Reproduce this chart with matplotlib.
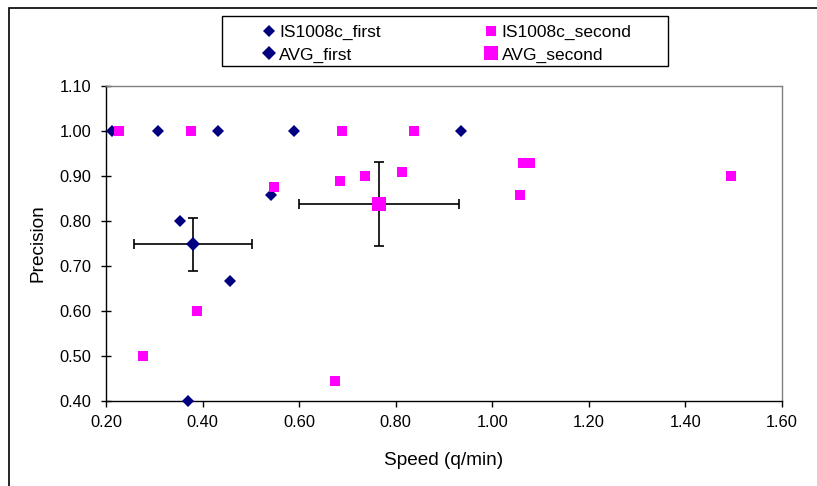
import matplotlib
matplotlib.use("Agg")
import matplotlib.pyplot as plt
from matplotlib.patches import Rectangle
from matplotlib.lines import Line2D

plt.rcParams['font.family'] = ['Liberation Sans', 'DejaVu Sans']

# IS1008c_first (speed, precision)
first_x = [0.213, 0.307, 0.431, 0.589, 0.936, 0.353, 0.542, 0.457, 0.369]
first_y = [1.00, 1.00, 1.00, 1.00, 1.00, 0.80, 0.857, 0.667, 0.40]

# IS1008c_second
second_x = [0.227, 0.375, 0.688, 0.838, 0.548, 0.684, 0.736, 0.814,
            0.388, 0.277, 0.674, 1.064, 1.079, 1.057, 1.494]
second_y = [1.00, 1.00, 1.00, 1.00, 0.875, 0.889, 0.90, 0.91,
            0.60, 0.50, 0.444, 0.93, 0.93, 0.857, 0.90]

# averages with error bars
avg_first = (0.380, 0.748)
avg_first_err = (0.123, 0.059)
avg_second = (0.766, 0.838)
avg_second_err = (0.166, 0.094)

xticks = [0.20, 0.40, 0.60, 0.80, 1.00, 1.20, 1.40, 1.60]
yticks = [0.40, 0.50, 0.60, 0.70, 0.80, 0.90, 1.00, 1.10]

navy = '#000080'
magenta = '#FF00FF'
tick_fs = 11.8
label_fs = 13.7
leg_fs = 12.5

fig = plt.figure(figsize=(8.17, 4.86), dpi=100)
ax = fig.add_axes([106/817, 1-401/486, (782-106)/817, (401-86)/486])

d_small = dict(marker='D', color=navy, markersize=5.8, mew=0, linestyle='none')
s_small = dict(marker='s', color=magenta, markersize=7.2, mew=0, linestyle='none')
d_big = dict(marker='D', color=navy, markersize=7.6, mew=0, linestyle='none')
s_big = dict(marker='s', color=magenta, markersize=9.6, mew=0, linestyle='none')

ax.plot(first_x, first_y, clip_on=False, zorder=3, **d_small)
ax.plot(second_x, second_y, clip_on=False, zorder=3, **s_small)

for (cx, cy), (ex, ey) in [(avg_first, avg_first_err), (avg_second, avg_second_err)]:
    ax.errorbar(cx, cy, xerr=ex, yerr=ey, fmt='none', ecolor='black',
                elinewidth=1.2, capsize=3.3, capthick=1.2, zorder=4)
ax.plot(avg_first[0], avg_first[1], zorder=5, **d_big)
ax.plot(avg_second[0], avg_second[1], zorder=5, **s_big)

ax.set_xlim(0.20, 1.60)
ax.set_ylim(0.40, 1.10)
ax.set_xticks(xticks)
ax.set_yticks(yticks)
ax.set_xticklabels(['%.2f' % v for v in xticks], fontsize=tick_fs)
ax.set_yticklabels(['%.2f' % v for v in yticks], fontsize=tick_fs)
ax.tick_params(axis='x', direction='out', length=4, width=1, pad=6)
ax.tick_params(axis='y', direction='inout', length=7.2, width=1, pad=7)

for s in ['left', 'bottom']:
    ax.spines[s].set_color('black')
    ax.spines[s].set_linewidth(1)
for s in ['top', 'right']:
    ax.spines[s].set_color('#808080')
    ax.spines[s].set_linewidth(1)

ax.set_xlabel('Speed (q/min)', fontsize=label_fs, labelpad=16)
ax.set_ylabel('Precision', fontsize=label_fs, labelpad=9)

handles = [Line2D([], [], **d_small), Line2D([], [], **d_big),
           Line2D([], [], **s_small), Line2D([], [], **s_big)]
labels = ['IS1008c_first', 'AVG_first', 'IS1008c_second', 'AVG_second']
leg = fig.legend(handles, labels, ncol=2, loc='upper left',
                 bbox_to_anchor=(262/817, 1-24.5/486),
                 fontsize=leg_fs, frameon=False, borderpad=0,
                 handlelength=0.8, handletextpad=0.2, labelspacing=0.43,
                 columnspacing=5.95, borderaxespad=0)

# legend box
fig.patches.append(Rectangle((222/817, 1-66/486), (668-222)/817, 50/486,
                             transform=fig.transFigure, fill=False,
                             edgecolor='black', linewidth=1))
# outer chart frame
fig.patches.append(Rectangle((8.5/817, -0.1), 1.2, 1.1 - 7.5/486,
                             transform=fig.transFigure, fill=False,
                             edgecolor='black', linewidth=1.2))

fig.savefig('out.png', dpi=100)
